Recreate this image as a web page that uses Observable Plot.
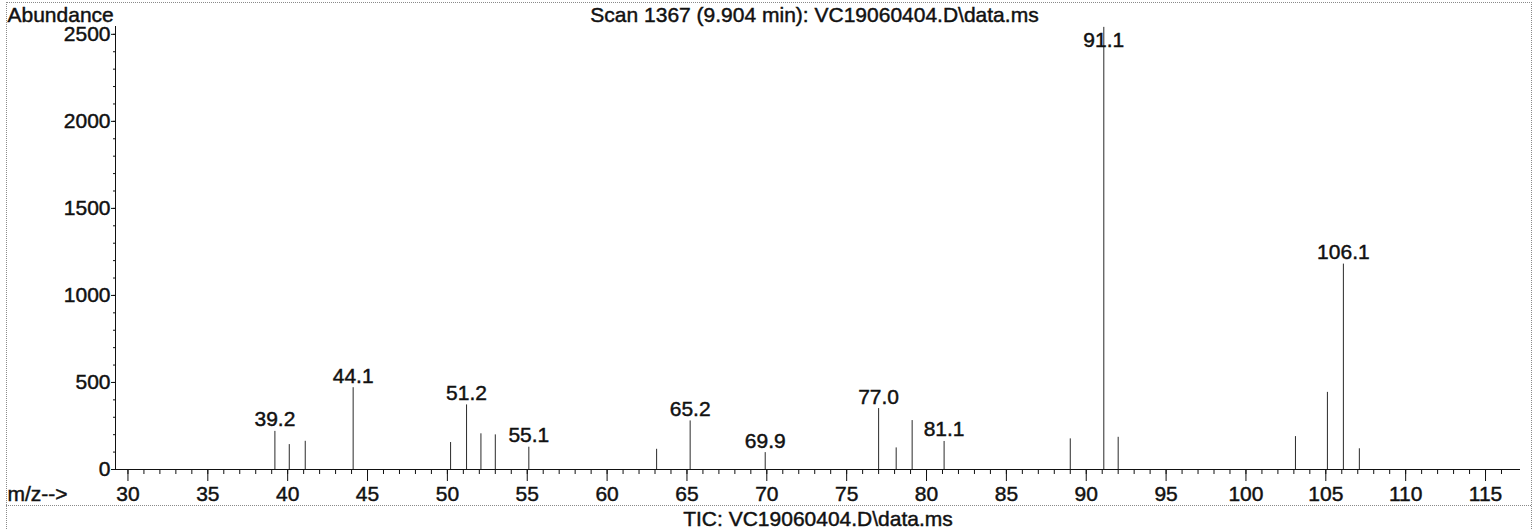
<!DOCTYPE html>
<html><head><meta charset="utf-8">
<script src="https://cdn.jsdelivr.net/npm/d3@7"></script>
<script src="https://cdn.jsdelivr.net/npm/@observablehq/plot@0.6"></script>
<style>
body{margin:0;background:#fff;}
#wrap{position:relative;width:1533px;height:529px;overflow:hidden;}
.border{position:absolute;left:6px;top:2px;width:1524px;height:560px;border-top:1px dotted #8a8a8a;border-left:1px dotted #8a8a8a;border-right:1px dotted #8a8a8a;pointer-events:none;}
.sep{position:absolute;left:6px;top:505px;width:1525px;height:0;border-top:1px dotted #8a8a8a;pointer-events:none;}
svg text{stroke:#111;stroke-width:0.45px;}
</style></head><body><div id="wrap"><div class="border"></div><div class="sep"></div></div>
<script>
// m/z of each ion peak and its abundance
const peakMz = [39.2, 40.1, 41.1, 44.1, 50.2, 51.2, 52.1, 53.0, 55.1, 63.1, 65.2, 69.9, 77.0, 78.1, 79.1, 81.1, 89.0, 91.1, 92.0, 103.1, 105.1, 106.1, 107.1];
const peakAbundance = [219, 143, 162, 470, 155, 371, 205, 199, 128, 116, 279, 97, 350, 124, 281, 161, 176, 2540, 185, 189, 443, 1180, 119];
const labeledMz = [39.2, 44.1, 51.2, 55.1, 65.2, 69.9, 77.0, 81.1, 91.1, 106.1];
const xMajorTicks = [30, 35, 40, 45, 50, 55, 60, 65, 70, 75, 80, 85, 90, 95, 100, 105, 110, 115];
const xMinorTicks = d3.range(30, 117, 1);
const yMajorTicks = [0, 500, 1000, 1500, 2000, 2500];
const yMinorTicks = d3.range(0, 2501, 100);
const xDomain = [29.22, 117.19];
const yDomain = [0, 2545];
const labelCap = 2400;
const titleText = "Scan 1367 (9.904 min): VC19060404.D\\data.ms";
const captionText = "TIC: VC19060404.D\\data.ms";
const yTitle = "Abundance";
const xTitle = "m/z-->";

const peaks = peakMz.map((mz, i) => ({mz, ab: peakAbundance[i]}));
const labeled = peaks.filter(d => labeledMz.includes(d.mz));

const FONT = "'Liberation Sans', Arial, Helvetica, sans-serif";
const FS = 21;
const ink = "#111";
const blank = () => "";

const chart = Plot.plot({
  width: 1533, height: 529,
  marginLeft: 115, marginRight: 13, marginTop: 26, marginBottom: 60,
  style: {fontFamily: FONT, fontSize: FS + "px", color: ink, background: "transparent", overflow: "visible"},
  x: {domain: xDomain},
  y: {domain: yDomain},
  marks: [
    Plot.axisY({ticks: yMinorTicks, tickSize: 2, tickFormat: blank, label: null, stroke: ink}),
    Plot.axisY({ticks: yMajorTicks, tickSize: 4, tickPadding: 1, label: null, fontSize: FS, tickFormat: d => String(d), stroke: ink}),
    Plot.axisX({ticks: xMinorTicks, tickSize: 5, tickFormat: blank, label: null, stroke: ink}),
    Plot.axisX({ticks: xMajorTicks, tickSize: 12, tickPadding: 5, label: null, fontSize: FS, tickFormat: d => String(d), stroke: ink}),
    Plot.ruleY([yDomain[0]], {stroke: ink, strokeWidth: 1}),
    Plot.ruleX([xDomain[0]], {stroke: ink, strokeWidth: 1}),
    Plot.ruleX(peaks, {x: "mz", y1: 0, y2: "ab", stroke: "#2a2a2a", strokeWidth: 1}),
    Plot.text(labeled, {x: "mz", y: d => Math.min(d.ab, labelCap), text: d => d.mz.toFixed(1), dy: -5, lineAnchor: "bottom", fontSize: FS, fill: ink}),
    Plot.text([yTitle], {frameAnchor: "top-left", textAnchor: "start", lineAnchor: "bottom", dx: -108, dy: -5, fontSize: FS, fill: ink}),
    Plot.text([titleText], {frameAnchor: "top", lineAnchor: "bottom", dx: -3.5, dy: -5, fontSize: FS, fill: ink}),
    Plot.text([xTitle], {frameAnchor: "bottom-left", textAnchor: "start", lineAnchor: "bottom", dx: -108, dy: 31.5, fontSize: FS, fill: ink}),
    Plot.text([captionText], {frameAnchor: "bottom", lineAnchor: "bottom", dy: 56, fontSize: FS, fill: ink})
  ]
});
chart.style.position = "absolute";
chart.style.left = "0";
chart.style.top = "0";
document.getElementById("wrap").appendChild(chart);
</script>
</body></html>
